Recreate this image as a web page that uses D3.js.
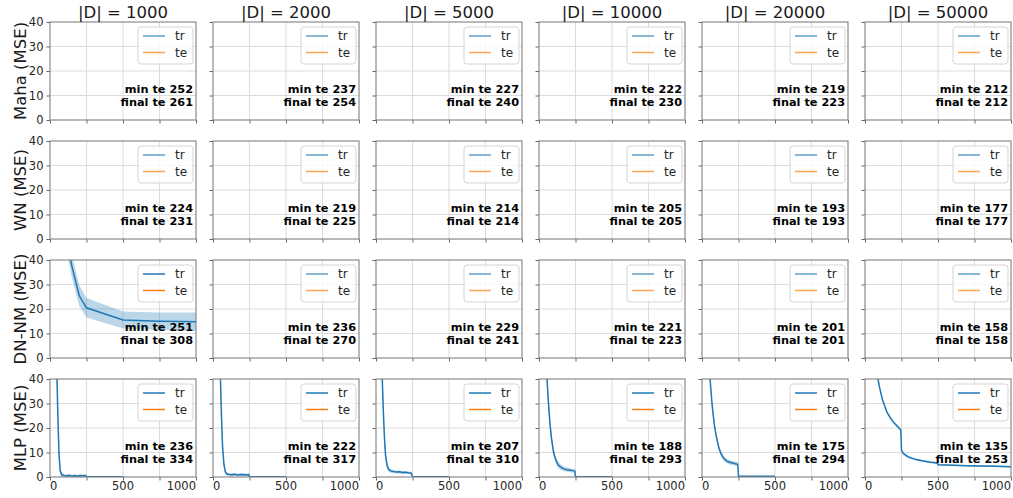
<!DOCTYPE html>
<html><head><meta charset="utf-8">
<script src="https://cdn.jsdelivr.net/npm/d3@7"></script>
<style>body{margin:0;background:#fff;} text{font-family:"DejaVu Sans",sans-serif;}</style>
</head><body>
<svg id="chart" width="1013" height="498"></svg>
<script>
// ---------- data ----------
const rowLabels = ["Maha (MSE)", "WN (MSE)", "DN-NM (MSE)", "MLP (MSE)"];
const datasetSizes = [1000, 2000, 5000, 10000, 20000, 50000];
const minTe = [
  [252, 237, 227, 222, 219, 212],
  [224, 219, 214, 205, 193, 177],
  [251, 236, 229, 221, 201, 158],
  [236, 222, 207, 188, 175, 135]
];
const finalTe = [
  [261, 254, 240, 230, 223, 212],
  [231, 225, 214, 205, 193, 177],
  [308, 270, 241, 223, 201, 158],
  [334, 317, 310, 293, 294, 253]
];
const yTicks = [0, 10, 20, 30, 40];
const xTickLabels = [0, 500, 1000];
const xGridTicks = [0, 250, 500, 750, 1000];
const legendLabels = ["tr", "te"];

// DN-NM, |D| = 1000 (train curve, mean and std)
const dnnmEpochs = [0, 50, 100, 150, 200, 250, 500, 750, 1000];
const dnnmMean   = [95, 72, 52, 37.5, 25.5, 20.5, 15.5, 15.0, 14.8];
const dnnmSd     = [8, 6, 5, 4.5, 4.2, 4.0, 3.5, 3.6, 3.8];

// MLP train curves per |D|
const mlp1000Epochs = [0, 25, 40, 48, 55, 62, 70, 80, 95, 110, 130, 150, 170, 190, 210, 230, 245, 250, 500];
const mlp1000Mean   = [120, 75, 50, 40, 22, 9, 2.5, 0.9, 0.6, 0.5, 0.6, 0.4, 0.5, 0.45, 0.5, 0.55, 0.5, 0.1, 0.1];
const mlp1000Sd     = [6, 5, 4, 3, 3, 2, 1.2, 0.6, 0.7, 0.4, 0.8, 0.4, 0.6, 0.4, 0.7, 0.5, 0.8, 0.05, 0.05];

const mlp2000Epochs = [0, 25, 40, 51, 58, 65, 75, 85, 95, 110, 130, 150, 170, 190, 210, 230, 245, 250, 500];
const mlp2000Mean   = [120, 80, 55, 40, 25, 13, 5, 2, 1.2, 1.0, 0.9, 1.1, 0.8, 1.0, 0.9, 0.8, 1.0, 0.1, 0.1];
const mlp2000Sd     = [6, 5, 4, 3, 3, 2, 1.2, 0.8, 0.6, 0.5, 0.7, 0.5, 0.6, 0.5, 0.6, 0.5, 0.7, 0.05, 0.05];

const mlp5000Epochs = [0, 20, 35, 43, 50, 58, 65, 75, 85, 100, 120, 140, 160, 180, 200, 220, 240, 250, 500];
const mlp5000Mean   = [130, 85, 55, 40, 27, 16, 9, 5, 3.2, 2.5, 2.2, 2.0, 2.1, 1.8, 1.9, 1.7, 1.6, 0.15, 0.1];
const mlp5000Sd     = [6, 5, 4, 3, 3, 2.5, 2, 1.5, 1.0, 0.8, 0.7, 0.6, 0.7, 0.6, 0.6, 0.5, 0.5, 0.05, 0.05];

const mlp10000Epochs = [0, 25, 45, 55, 65, 75, 85, 100, 115, 130, 150, 170, 190, 210, 230, 245, 250, 500];
const mlp10000Mean   = [150, 90, 55, 40, 30, 22, 16, 10, 7, 5, 4, 3.3, 3.0, 2.8, 2.6, 2.5, 0.15, 0.1];
const mlp10000Sd     = [6, 5, 4, 3, 2.5, 2, 1.8, 1.5, 1.3, 1.2, 1.1, 1.0, 0.9, 0.9, 0.8, 0.8, 0.05, 0.05];

const mlp20000Epochs = [0, 25, 45, 55, 70, 85, 100, 115, 130, 150, 170, 190, 210, 230, 245, 250, 500];
const mlp20000Mean   = [150, 95, 55, 40, 29, 21, 16, 12, 9.5, 7.5, 6.5, 6.0, 5.7, 5.4, 5.2, 0.3, 0.3];
const mlp20000Sd     = [5, 4, 3, 2, 1.5, 1.3, 1.2, 1.1, 1.0, 1.0, 0.9, 0.9, 0.8, 0.8, 0.8, 0.1, 0.1];

const mlp50000Epochs = [0, 40, 70, 89, 100, 120, 150, 175, 200, 225, 245, 250, 260, 280, 300, 350, 400, 450, 495, 500, 600, 700, 800, 900, 1000];
const mlp50000Mean   = [90, 62, 47, 40, 36.5, 31.5, 26.5, 24, 22, 20.5, 19.3, 11, 9.8, 8.8, 8.1, 7.1, 6.5, 6.0, 5.7, 5.0, 4.8, 4.6, 4.5, 4.4, 4.2];
const mlp50000Sd     = [1, 0.8, 0.7, 0.6, 0.6, 0.6, 0.6, 0.6, 0.6, 0.6, 0.6, 0.5, 0.5, 0.5, 0.5, 0.4, 0.4, 0.4, 0.4, 0.3, 0.3, 0.3, 0.3, 0.3, 0.3];

const mlpCurves = [
  [mlp1000Epochs, mlp1000Mean, mlp1000Sd],
  [mlp2000Epochs, mlp2000Mean, mlp2000Sd],
  [mlp5000Epochs, mlp5000Mean, mlp5000Sd],
  [mlp10000Epochs, mlp10000Mean, mlp10000Sd],
  [mlp20000Epochs, mlp20000Mean, mlp20000Sd],
  [mlp50000Epochs, mlp50000Mean, mlp50000Sd]
];
function curveFor(r, c) {
  if (r === 2 && c === 0) return [dnnmEpochs, dnnmMean, dnnmSd];
  if (r === 3) return mlpCurves[c];
  return null;
}

// ---------- layout ----------
const svg = d3.select("#chart");
const colors = { tr: "#1f77b4", te: "#ff7f0e" };
const panelW = 146, panelH = 98;
const colLeft = c => 50 + c * 163;
const rowTop = r => 22 + r * 119;

svg.append("defs").selectAll("clipPath").data(d3.range(24)).join("clipPath")
  .attr("id", i => "clip" + i)
  .append("rect").attr("width", panelW).attr("height", panelH);

rowLabels.forEach((rl, r) => {
  // y-axis row label
  svg.append("text")
    .attr("transform", `translate(${26},${rowTop(r) + panelH / 2}) rotate(-90)`)
    .attr("text-anchor", "middle")
    .attr("font-size", 16.5).attr("fill", "#1a1a1a")
    .text(rl);

  datasetSizes.forEach((ds, c) => {
    const g = svg.append("g").attr("transform", `translate(${colLeft(c)},${rowTop(r)})`);
    const x = d3.scaleLinear().domain([0, 1000]).range([0, panelW]);
    const y = d3.scaleLinear().domain([0, 40]).range([panelH, 0]);

    // grid
    g.append("g").selectAll("line").data(xGridTicks.slice(1, -1)).join("line")
      .attr("x1", d => x(d)).attr("x2", d => x(d)).attr("y1", 0).attr("y2", panelH)
      .attr("stroke", "#dcdcdc").attr("stroke-width", 1);
    g.append("g").selectAll("line").data(yTicks.slice(1, -1)).join("line")
      .attr("y1", d => y(d)).attr("y2", d => y(d)).attr("x1", 0).attr("x2", panelW)
      .attr("stroke", "#dcdcdc").attr("stroke-width", 1);

    // data
    const cv = curveFor(r, c);
    if (cv) {
      const [ex, mu, sd] = cv;
      const pts = ex.map((e, i) => ({ e, m: mu[i], s: sd[i] }));
      const pg = g.append("g").attr("clip-path", `url(#clip${r * 6 + c})`);
      pg.append("path").datum(pts)
        .attr("d", d3.area().x(d => x(d.e)).y0(d => y(d.m - d.s)).y1(d => y(d.m + d.s)))
        .attr("fill", colors.tr).attr("fill-opacity", 0.3);
      pg.append("path").datum(pts)
        .attr("d", d3.line().x(d => x(d.e)).y(d => y(d.m)))
        .attr("fill", "none").attr("stroke", colors.tr).attr("stroke-width", 1.5);
    }

    // axes (ticks)
    const xAxis = d3.axisBottom(x).tickValues(xGridTicks).tickSize(3.5).tickFormat("");
    const yAxis = d3.axisLeft(y).tickValues(yTicks).tickSize(3.5).tickFormat("");
    const gx = g.append("g").attr("transform", `translate(0,${panelH})`).call(xAxis);
    const gy = g.append("g").call(yAxis);
    [gx, gy].forEach(a => {
      a.select(".domain").remove();
      a.selectAll(".tick line").attr("stroke", "#555").attr("stroke-width", 0.9);
    });

    // spines
    g.append("rect").attr("width", panelW).attr("height", panelH)
      .attr("fill", "none").attr("stroke", "#808080").attr("stroke-width", 1.1);

    // y tick labels (first column)
    if (c === 0) {
      g.append("g").selectAll("text").data(yTicks).join("text")
        .attr("x", -6.5).attr("y", d => y(d)).attr("dy", "0.36em")
        .attr("text-anchor", "end").attr("font-size", 11.5).attr("fill", "#262626")
        .text(d => d);
    }
    // x tick labels (bottom row)
    if (r === rowLabels.length - 1) {
      g.append("g").selectAll("text").data(xTickLabels).join("text")
        .attr("x", d => x(d)).attr("y", panelH + 13)
        .attr("text-anchor", (d, i) => i === 0 ? "start" : (i === xTickLabels.length - 1 ? "end" : "middle"))
        .attr("font-size", 11.5).attr("fill", "#262626")
        .text(d => d);
    }
    // title
    if (r === 0) {
      g.append("text").attr("x", panelW / 2).attr("y", -4)
        .attr("text-anchor", "middle").attr("font-size", 16.5).attr("fill", "#1a1a1a")
        .text(`|D| = ${ds}`);
    }

    // legend
    const lg = g.append("g").attr("transform", `translate(${panelW - 58},${5})`);
    lg.append("rect").attr("width", 55).attr("height", 37).attr("rx", 3)
      .attr("fill", "#fff").attr("fill-opacity", 0.8)
      .attr("stroke", "#d0d0d0").attr("stroke-width", 0.9);
    const legOpacity = cv ? 1 : 0.7;
    legendLabels.forEach((lab, i) => {
      const ly = 9 + i * 16.5;
      lg.append("line").attr("x1", 5).attr("x2", 27).attr("y1", ly).attr("y2", ly)
        .attr("stroke", colors[lab]).attr("stroke-width", 1.5).attr("stroke-opacity", legOpacity);
      lg.append("text").attr("x", 37).attr("y", ly + 4.2)
        .attr("font-size", 12).attr("fill", "#262626").text(lab);
    });

    // annotations
    g.append("text").attr("x", panelW - 3).attr("y", panelH - 27)
      .attr("text-anchor", "end").attr("font-size", 11.3).attr("font-weight", "bold").attr("fill", "#000")
      .text(`min te ${minTe[r][c]}`);
    g.append("text").attr("x", panelW - 3).attr("y", panelH - 14)
      .attr("text-anchor", "end").attr("font-size", 11.3).attr("font-weight", "bold").attr("fill", "#000")
      .text(`final te ${finalTe[r][c]}`);
  });
});
</script>
</body></html>
